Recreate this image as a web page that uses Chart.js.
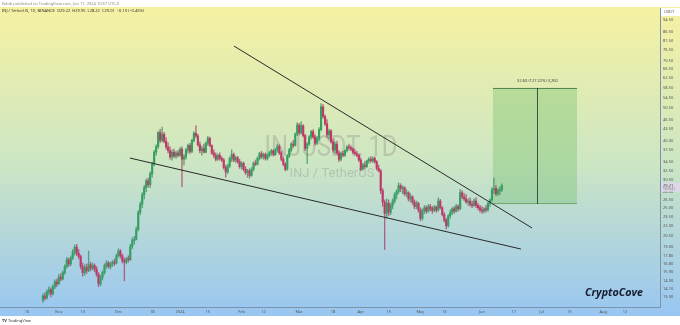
<!DOCTYPE html>
<html>
<head>
<meta charset="utf-8">
<script src="https://cdn.jsdelivr.net/npm/chart.js@4/dist/chart.umd.min.js"></script>
<style>
  html, body { margin: 0; padding: 0; background: #fff; overflow: hidden; }
  #wrap { width: 680px; height: 325px; }
</style>
</head>
<body>
<div id="wrap"><canvas id="chart" width="680" height="325"></canvas></div>
<script>
// Daily candles, day 0 = 16 Oct 2023; first candle is day 8 (24 Oct), last is day 239 (11 Jun)
const firstDay = 8;

const opens = [
  13.0, 13.4, 13.2, 13.8, 14.0, 13.6, 14.3, 14.8, 14.6, 15.3,
  15.1, 15.8, 16.5, 17.3, 16.8, 17.5, 18.3, 18.9, 18.1, 17.7,
  16.5, 15.8, 16.4, 16.0, 16.7, 16.3, 16.6, 16.2, 15.6, 14.6,
  15.3, 15.8, 16.6, 16.9, 16.5, 16.8, 17.0, 16.9, 17.8, 18.4,
  17.8, 17.2, 17.0, 17.4, 17.3, 19.0, 19.8, 20.0, 21.4, 24.2,
  25.6, 27.4, 28.8, 30.2, 29.4, 31.8, 34.0, 37.0, 38.5, 42.5,
  40.2, 42.0, 40.0, 38.4, 37.4, 35.8, 37.0, 36.0, 36.8, 36.2,
  37.8, 35.2, 35.8, 37.6, 38.8, 37.2, 40.2, 42.3, 41.5, 39.0,
  37.4, 38.0, 37.0, 39.4, 40.8, 38.8, 36.8, 36.2, 35.2, 36.2,
  35.4, 35.0, 33.2, 32.2, 33.6, 35.4, 36.4, 35.0, 35.6, 34.6,
  33.4, 34.2, 32.8, 32.0, 32.4, 31.4, 32.8, 34.2, 34.0, 35.4,
  36.6, 35.8, 36.4, 35.4, 36.2, 36.8, 37.4, 36.4, 37.6, 38.6,
  36.8, 35.2, 34.0, 32.8, 36.0, 37.6, 39.2, 38.8, 42.0, 44.8,
  42.4, 44.6, 41.6, 38.0, 39.2, 41.2, 42.8, 41.2, 39.4, 40.8,
  43.4, 51.0, 47.6, 45.2, 41.8, 43.0, 39.8, 37.6, 39.2, 36.8,
  35.2, 36.6, 36.2, 37.4, 38.4, 38.2, 37.8, 37.0, 36.6, 36.2,
  35.0, 32.8, 33.8, 33.4, 34.8, 35.2, 34.8, 35.4, 34.6, 33.0,
  32.4, 28.2, 26.0, 24.0, 25.8, 24.2, 25.4, 26.2, 27.4, 28.0,
  29.2, 28.6, 28.8, 27.6, 27.8, 26.6, 27.0, 26.0, 25.2, 25.8,
  24.6, 23.2, 24.4, 25.0, 24.4, 25.2, 24.8, 24.5, 25.1, 24.6,
  26.2, 25.0, 23.8, 22.9, 22.0, 23.6, 24.2, 24.8, 24.4, 25.2,
  24.8, 27.8, 27.0, 26.6, 26.0, 26.2, 25.6, 25.4, 26.2, 25.4,
  25.0, 24.6, 24.4, 24.8, 24.6, 25.8, 26.4, 28.4, 28.6, 27.6,
  28.2, 28.4
];
const highs = [
  13.6, 13.7, 14.0, 14.3, 14.2, 14.5, 15.0, 15.1, 15.6, 15.7,
  16.0, 16.7, 17.6, 17.5, 17.8, 18.6, 19.2, 19.3, 18.6, 17.9,
  16.9, 16.7, 16.8, 18.4, 17.0, 16.9, 16.8, 16.5, 15.8, 15.5,
  16.0, 16.8, 17.2, 17.1, 17.0, 17.2, 17.4, 18.0, 18.7, 18.6,
  18.0, 17.5, 17.6, 17.8, 19.3, 20.2, 20.4, 21.8, 24.5, 26.0,
  27.8, 29.3, 30.6, 30.8, 32.2, 34.5, 37.5, 39.0, 42.9, 43.5,
  44.2, 42.6, 41.0, 39.5, 38.4, 37.6, 37.8, 37.2, 37.5, 38.2,
  38.4, 36.4, 38.0, 39.2, 39.4, 40.6, 42.8, 44.6, 42.0, 39.8,
  38.6, 39.2, 39.8, 41.4, 41.2, 39.0, 37.6, 36.8, 36.6, 36.8,
  35.9, 35.4, 33.8, 34.0, 35.8, 37.6, 36.8, 36.0, 35.9, 35.2,
  34.6, 34.5, 33.4, 32.8, 32.9, 33.2, 34.6, 35.0, 35.8, 37.0,
  37.2, 36.8, 36.8, 36.6, 37.2, 37.8, 37.6, 38.0, 39.2, 39.0,
  37.2, 35.8, 34.4, 36.4, 38.0, 39.6, 40.2, 42.4, 45.6, 45.4,
  45.9, 45.0, 42.0, 39.6, 41.6, 43.2, 43.4, 41.8, 41.4, 44.0,
  52.2, 51.8, 48.2, 46.6, 43.6, 43.4, 40.6, 39.8, 40.0, 37.4,
  37.0, 37.2, 37.6, 38.8, 39.2, 38.8, 38.2, 37.8, 37.2, 36.6,
  35.4, 34.2, 34.6, 35.0, 35.6, 35.9, 35.8, 35.8, 34.9, 33.8,
  32.8, 28.6, 26.4, 26.6, 26.4, 25.8, 26.6, 27.8, 28.4, 29.8,
  29.6, 29.2, 29.0, 28.4, 28.0, 27.6, 27.2, 26.4, 26.2, 26.0,
  25.0, 24.8, 25.4, 25.3, 25.6, 25.6, 25.2, 25.4, 25.3, 26.8,
  26.5, 25.2, 24.2, 23.2, 23.8, 24.6, 25.0, 25.2, 25.6, 25.5,
  28.4, 28.2, 27.6, 27.4, 26.6, 26.8, 26.2, 26.6, 26.8, 25.8,
  25.4, 25.2, 25.0, 25.4, 26.0, 26.6, 28.8, 30.8, 29.2, 28.6,
  29.0, 29.6
];
const lows = [
  12.8, 13.0, 13.1, 13.5, 13.3, 13.5, 14.1, 14.3, 14.5, 14.9,
  15.0, 15.6, 16.3, 16.5, 16.6, 17.3, 17.9, 17.8, 17.4, 16.2,
  15.4, 15.5, 15.7, 15.9, 16.0, 16.1, 15.9, 15.4, 14.3, 14.4,
  15.0, 15.6, 16.3, 16.3, 16.2, 16.5, 16.6, 16.8, 17.6, 17.5,
  16.9, 14.9, 16.8, 17.0, 17.2, 18.7, 19.3, 19.9, 21.2, 23.8,
  25.0, 26.6, 28.0, 28.9, 28.8, 31.0, 33.6, 36.2, 38.0, 39.6,
  39.8, 39.5, 37.8, 36.8, 35.2, 35.0, 35.6, 35.4, 35.8, 35.9,
  29.0, 33.8, 35.2, 36.8, 36.6, 36.9, 39.8, 41.0, 38.6, 36.8,
  36.2, 36.8, 36.8, 38.8, 38.4, 36.4, 35.6, 34.8, 34.9, 35.0,
  34.6, 32.8, 31.0, 31.8, 33.2, 34.6, 34.6, 34.4, 34.2, 33.0,
  32.8, 32.4, 31.6, 31.0, 30.8, 31.2, 32.4, 33.6, 33.8, 35.0,
  35.4, 35.2, 35.0, 35.0, 35.8, 36.2, 36.0, 36.2, 37.0, 36.4,
  34.8, 33.6, 32.4, 32.6, 35.6, 37.2, 38.2, 38.6, 41.6, 41.8,
  42.0, 41.2, 37.4, 34.2, 38.8, 40.6, 40.8, 38.8, 39.0, 40.2,
  43.0, 47.0, 44.6, 41.0, 40.6, 39.4, 37.0, 36.6, 36.4, 34.6,
  34.8, 35.8, 35.9, 37.0, 37.6, 37.4, 36.6, 36.2, 35.8, 34.6,
  32.4, 32.6, 33.0, 33.2, 34.2, 34.4, 34.4, 34.2, 32.6, 32.2,
  27.6, 25.2, 18.6, 23.2, 23.6, 23.8, 24.8, 25.8, 26.6, 27.6,
  28.0, 27.6, 27.2, 27.0, 26.2, 26.0, 25.6, 24.8, 24.8, 24.2,
  22.8, 22.9, 24.0, 24.0, 24.2, 24.4, 24.0, 24.3, 24.2, 24.4,
  24.8, 23.6, 22.6, 21.5, 21.8, 23.2, 23.8, 24.0, 24.2, 24.4,
  24.6, 26.6, 26.2, 25.8, 25.4, 25.2, 25.0, 25.2, 25.0, 24.6,
  24.2, 24.0, 24.1, 24.2, 24.4, 25.2, 26.0, 27.6, 27.2, 27.2,
  27.4, 28.0
];
const closes = [
  13.4, 13.2, 13.8, 14.0, 13.6, 14.3, 14.8, 14.6, 15.3, 15.1,
  15.8, 16.5, 17.3, 16.8, 17.5, 18.3, 18.9, 18.1, 17.7, 16.5,
  15.8, 16.4, 16.0, 16.7, 16.3, 16.6, 16.2, 15.6, 14.6, 15.3,
  15.8, 16.6, 16.9, 16.5, 16.8, 17.0, 16.9, 17.8, 18.4, 17.8,
  17.2, 17.0, 17.4, 17.3, 19.0, 19.8, 20.0, 21.4, 24.2, 25.6,
  27.4, 28.8, 30.2, 29.4, 31.8, 34.0, 37.0, 38.5, 42.5, 40.2,
  42.0, 40.0, 38.4, 37.4, 35.8, 37.0, 36.0, 36.8, 36.2, 37.8,
  35.2, 35.8, 37.6, 38.8, 37.2, 40.2, 42.3, 41.5, 39.0, 37.4,
  38.0, 37.0, 39.4, 40.8, 38.8, 36.8, 36.2, 35.2, 36.2, 35.4,
  35.0, 33.2, 32.2, 33.6, 35.4, 36.4, 35.0, 35.6, 34.6, 33.4,
  34.2, 32.8, 32.0, 32.4, 31.4, 32.8, 34.2, 34.0, 35.4, 36.6,
  35.8, 36.4, 35.4, 36.2, 36.8, 37.4, 36.4, 37.6, 38.6, 36.8,
  35.2, 34.0, 32.8, 36.0, 37.6, 39.2, 38.8, 42.0, 44.8, 42.4,
  44.6, 41.6, 38.0, 39.2, 41.2, 42.8, 41.2, 39.4, 40.8, 43.4,
  51.0, 47.6, 45.2, 41.8, 43.0, 39.8, 37.6, 39.2, 36.8, 35.2,
  36.6, 36.2, 37.4, 38.4, 38.2, 37.8, 37.0, 36.6, 36.2, 35.0,
  32.8, 33.8, 33.4, 34.8, 35.2, 34.8, 35.4, 34.6, 33.0, 32.4,
  28.2, 26.0, 24.0, 25.8, 24.2, 25.4, 26.2, 27.4, 28.0, 29.2,
  28.6, 28.8, 27.6, 27.8, 26.6, 27.0, 26.0, 25.2, 25.8, 24.6,
  23.2, 24.4, 25.0, 24.4, 25.2, 24.8, 24.5, 25.1, 24.6, 26.2,
  25.0, 23.8, 22.9, 22.0, 23.6, 24.2, 24.8, 24.4, 25.2, 24.8,
  27.8, 27.0, 26.6, 26.0, 26.2, 25.6, 25.4, 26.2, 25.4, 25.0,
  24.6, 24.4, 24.8, 24.6, 25.8, 26.4, 28.4, 28.6, 27.6, 28.2,
  28.4, 29.2
];

// Time axis labels (days from 16 Oct 2023)
const xTickDays = [0, 16, 28, 46, 63, 77, 91, 108, 119, 137, 154, 168, 182, 198, 210, 229, 245, 259, 273, 290, 301];
const xTickLabels = ['16', 'Nov', '13', 'Dec', '18', '2024', '15', 'Feb', '12', 'Mar', '18', 'Apr', '15', 'May', '13', 'Jun', '17', 'Jul', '15', 'Aug', '12'];

// Price axis labels (log scale)
const yTickValues = [94.5, 86.5, 81.5, 76.5, 70.5, 66.5, 62.5, 58.5, 54.5, 50.5, 46.5, 43.5, 40.0, 37.5, 34.5,
  32.5, 30.5, 28.0, 26.5, 25.0, 23.5, 22.0, 20.5, 19.0, 17.8, 16.8, 15.9, 14.9, 14.1, 13.3];

// Drawn wedge lines (day, price)
const upperLine = [{ x: 104.2, y: 78.3 }, { x: 254.2, y: 21.65 }];
const lowerLine = [{ x: 51.8, y: 35.5 }, { x: 248.6, y: 18.66 }];

// Long position target box
const targetStart = 234.5, targetEnd = 276.8, targetMid = 256.7;
const targetLow = 25.65, targetHigh = 58.25;
const targetLabel = '32.60 (127.22%) 3,260';
const lastPrice = 29.21;

const UP = '#35a062', DOWN = '#c0386a';
const candleColor = opens.map((o, i) => closes[i] >= o ? UP : DOWN);
const wickColor = opens.map((o, i) => closes[i] >= o ? 'rgba(53,140,90,0.75)' : 'rgba(170,60,100,0.75)');

const bodies = opens.map((o, i) => ({ x: firstDay + i, y: [o, closes[i]] }));
const wicks = lows.map((l, i) => ({ x: firstDay + i, y: [l, highs[i]] }));

const FONT = 'Noto Sans';

// draw centred text squeezed to a given width (TradingView watermark font is narrow)
function fitText(ctx, text, cx, cy, width) {
    ctx.save();
    ctx.textAlign = 'center';
    const w = ctx.measureText(text).width;
    ctx.translate(cx, cy);
    ctx.scale(width / w, 1);
    ctx.fillText(text, 0, 0);
    ctx.restore();
}

const decor = {
    id: 'decor',
    beforeDraw(chart) {
        const { ctx } = chart;
        ctx.save();
        ctx.fillStyle = '#fff';
        ctx.fillRect(0, 0, chart.width, chart.height);
        const g = ctx.createLinearGradient(0, 7, 0, 316);
        g.addColorStop(0, '#f6f1a2');
        g.addColorStop(0.5, '#cde6c3');
        g.addColorStop(1, '#98c6f2');
        ctx.fillStyle = g;
        ctx.fillRect(0, 7, chart.width, 309);
        ctx.restore();
    },
    beforeDatasetsDraw(chart) {
        const { ctx, scales: { x, y } } = chart;
        ctx.save();
        // watermark
        ctx.fillStyle = 'rgba(130,130,130,0.32)';
        ctx.textBaseline = 'alphabetic';
        ctx.font = `29px Roboto`;
        fitText(ctx, 'INJUSDT, 1D', 331, 156, 133);
        ctx.font = `13px Roboto`;
        fitText(ctx, 'INJ / TetherUS', 332, 177, 85);

        // target box
        const x0 = x.getPixelForValue(targetStart), x1 = x.getPixelForValue(targetEnd);
        const yT = y.getPixelForValue(targetHigh), yB = y.getPixelForValue(targetLow);
        ctx.fillStyle = 'rgba(110,190,100,0.35)';
        ctx.fillRect(x0, yT, x1 - x0, yB - yT);
        ctx.strokeStyle = 'rgba(60,110,60,0.8)';
        ctx.lineWidth = 1;
        ctx.beginPath();
        ctx.moveTo(x0, yT + 0.5); ctx.lineTo(x1, yT + 0.5);
        ctx.stroke();
        ctx.strokeStyle = 'rgba(80,140,80,0.6)';
        ctx.beginPath();
        ctx.moveTo(x0, yB - 0.5); ctx.lineTo(x1, yB - 0.5);
        ctx.stroke();
        const xm = Math.round(x.getPixelForValue(targetMid)) + 0.5;
        ctx.strokeStyle = 'rgba(40,60,40,0.85)';
        ctx.beginPath();
        ctx.moveTo(xm, yT); ctx.lineTo(xm, yB);
        ctx.stroke();
        ctx.fillStyle = '#444';
        ctx.font = `4px "${FONT}"`;
        ctx.textAlign = 'center';
        ctx.fillText(targetLabel, xm, yT - 6);
        ctx.restore();
    },
    afterDraw(chart) {
        const { ctx, scales: { y } } = chart;
        ctx.save();
        ctx.textBaseline = 'middle';
        ctx.textAlign = 'left';
        ctx.fillStyle = '#888';
        ctx.font = `4px "${FONT}"`;
        ctx.fillText('Fabib published on TradingView.com, Jun 11, 2024 10:57 UTC-5', 2, 3.5);
        ctx.fillStyle = '#333';
        ctx.fillText('INJ / TetherUS, 1D, BINANCE  O29.22  H29.95  L28.22  C29.01  \u22120.13 (\u22120.45%)', 2, 11);

        // USDT header on the price axis
        ctx.fillStyle = '#fff';
        ctx.fillRect(661, 8, 19, 8);
        ctx.fillStyle = '#555';
        ctx.fillText('USDT', 664, 12);

        // last price tag
        const yp = y.getPixelForValue(lastPrice);
        ctx.fillStyle = 'rgba(222,214,232,0.95)';
        ctx.fillRect(661, yp - 3, 19, 9);
        ctx.fillStyle = '#444';
        ctx.fillText(lastPrice.toFixed(2), 663, yp);
        ctx.fillStyle = '#777';
        ctx.font = `3px "${FONT}"`;
        ctx.fillText('16:59:41', 663, yp + 3.5);

        // TradingView logo
        ctx.fillStyle = '#333';
        ctx.font = `bold 4px "${FONT}"`;
        ctx.fillText('TV', 2, 320.5);
        ctx.font = `4px "${FONT}"`;
        ctx.fillText('TradingView', 8, 320.5);

        // signature
        ctx.fillStyle = '#161a2c';
        ctx.font = `italic bold 11px "Open Sans"`;
        ctx.textBaseline = 'alphabetic';
        fitText(ctx, 'CryptoCove', 614, 296, 58);
        ctx.restore();
    }
};

new Chart(document.getElementById('chart'), {
    type: 'bar',
    data: {
        datasets: [
            {
                type: 'line',
                data: upperLine,
                borderColor: '#2a2a2a',
                borderWidth: 1,
                pointRadius: 0,
                order: 0
            },
            {
                type: 'line',
                data: lowerLine,
                borderColor: '#2a2a2a',
                borderWidth: 1,
                pointRadius: 0,
                order: 0
            },
            {
                data: bodies,
                backgroundColor: candleColor,
                barThickness: 1.5,
                minBarLength: 1,
                grouped: false,
                order: 1
            },
            {
                data: wicks,
                backgroundColor: wickColor,
                barThickness: 0.7,
                grouped: false,
                order: 2
            }
        ]
    },
    options: {
        responsive: false,
        animation: false,
        devicePixelRatio: 1,
        layout: { padding: { top: 8, bottom: 9, left: 0, right: 0 } },
        plugins: { legend: { display: false }, tooltip: { enabled: false } },
        scales: {
            x: {
                type: 'linear',
                offset: false,
                min: -13.59,
                max: 318.57,
                grid: { display: false, drawTicks: false, offset: false },
                border: { display: true, color: '#7d93a8', width: 1 },
                ticks: {
                    autoSkip: false,
                    maxRotation: 0,
                    padding: 2,
                    color: '#555',
                    font: { family: FONT, size: 4 },
                    callback: v => xTickLabels[xTickDays.indexOf(v)]
                },
                afterBuildTicks: s => { s.ticks = xTickDays.map(v => ({ value: v })); },
                afterFit: s => { s.height = 9; }
            },
            y: {
                type: 'logarithmic',
                position: 'right',
                min: 12.39,
                max: 102.5,
                grid: { display: false, drawTicks: false },
                border: { display: true, color: '#7d93a8', width: 1 },
                ticks: {
                    autoSkip: false,
                    padding: 3,
                    color: '#555',
                    font: { family: FONT, size: 4 },
                    callback: v => Number(v).toFixed(2)
                },
                afterBuildTicks: s => { s.ticks = yTickValues.map(v => ({ value: v })); },
                afterFit: s => { s.width = 20; }
            }
        }
    },
    plugins: [decor]
});
</script>
</body>
</html>
